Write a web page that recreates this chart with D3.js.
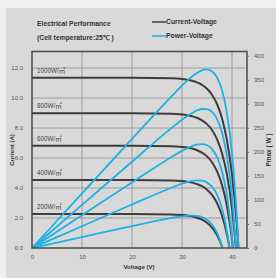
<!DOCTYPE html>
<html>
<head>
<meta charset="utf-8">
<script src="https://cdn.jsdelivr.net/npm/d3@7"></script>
<style>
  body { margin: 0; background: #f0f0f0; }
  svg { display: block; }
</style>
</head>
<body>
<div class="canvas"></div>
<script>
// irradiance levels, top to bottom
const irradiance = ['1000W/', '800W/', '600W/', '400W/', '200W/'];
const iscValues = [11.35, 8.98, 6.82, 4.53, 2.27];

// current-voltage curves [V, A]
const ivCurves = [
    [[0,11.35],[20,11.35],[28,11.31],[30,11.27],[31,11.22],[32,11.15],[33,11.04],[34,10.88],[35,10.62],[36,10.22],[37,9.60],[38,8.65],[39,7.17],[40,4.90],[41,1.39],[41.3,0]],
    [[0,8.98],[20,8.98],[28,8.95],[30,8.90],[31,8.85],[32,8.78],[33,8.68],[34,8.51],[35,8.26],[36,7.87],[37,7.26],[38,6.32],[39,4.88],[40,2.64],[40.8,0]],
    [[0,6.82],[20,6.82],[28,6.79],[30,6.74],[31,6.70],[32,6.63],[33,6.52],[34,6.36],[35,6.11],[36,5.72],[37,5.12],[38,4.20],[39,2.77],[40,0.57],[40.2,0]],
    [[0,4.53],[20,4.53],[28,4.50],[30,4.46],[31,4.42],[32,4.36],[33,4.26],[34,4.12],[35,3.89],[36,3.54],[37,3.00],[38,2.17],[39,0.88],[39.5,0]],
    [[0,2.27],[20,2.27],[28,2.24],[30,2.20],[31,2.17],[32,2.11],[33,2.02],[34,1.89],[35,1.68],[36,1.36],[37,0.86],[38,0.10],[38.1,0]]
];

// power-voltage curves [V, W]
const pvCurves = [
    [[0,0],[10,113.5],[20,227],[28,316.7],[30,338.1],[31,347.8],[32,356.8],[33,364.3],[34,369.9],[35,371.7],[36,367.9],[37,355.2],[38,328.7],[39,279.6],[40,196],[41,57],[41.3,0]],
    [[0,0],[10,89.8],[20,179.6],[28,250.6],[30,267],[31,274.4],[32,281],[33,286.4],[34,289.3],[35,289.1],[36,283.3],[37,268.6],[38,240.2],[39,190.3],[40,105.6],[40.8,0]],
    [[0,0],[10,68.2],[20,136.4],[28,190.1],[30,202.2],[31,207.7],[32,212.2],[33,215.2],[34,216.2],[35,213.9],[36,205.9],[37,189.4],[38,159.6],[39,108],[40,22.8],[40.2,0]],
    [[0,0],[10,45.3],[20,90.6],[28,126],[30,133.8],[31,137],[32,139.5],[33,140.6],[34,140.1],[35,136.2],[36,127.4],[37,111],[38,82.5],[39,34.3],[39.5,0]],
    [[0,0],[10,22.7],[20,45.4],[28,62.7],[30,66],[31,67.3],[32,67.5],[33,66.7],[34,64.3],[35,58.8],[36,49],[37,31.8],[38,3.8],[38.1,0]]
];

const xTicks = [0, 10, 20, 30, 40];
const yTicks = [0, 2, 4, 6, 8, 10, 12];
const pTicks = [0, 50, 100, 150, 200, 250, 300, 350, 400];

const width = 276, height = 278;
const ivColour = '#3d3d3d';
const pvColour = '#1eb0e6';
const font = '"Liberation Sans", Arial, sans-serif';

const svg = d3.select('.canvas')
    .append('svg')
        .attr('width', width)
        .attr('height', height);

// panel background
svg.append('rect')
    .attr('x', 6).attr('y', 8)
    .attr('width', width - 6).attr('height', height - 8)
    .attr('fill', '#d9d9d9');

const plot = {left: 32, right: 247, top: 51.5, bottom: 248};

const x = d3.scaleLinear().domain([0, 43]).range([plot.left, plot.right]);
const y = d3.scaleLinear().domain([0, 13.1]).range([plot.bottom, plot.top]);
const yP = d3.scaleLinear().domain([0, 409]).range([plot.bottom, plot.top]);

// grid
svg.append('g')
    .selectAll('line.vgrid')
    .data(xTicks.slice(1))
    .enter().append('line')
        .attr('class', 'vgrid')
        .attr('x1', d => x(d)).attr('x2', d => x(d))
        .attr('y1', plot.top).attr('y2', plot.bottom)
        .attr('stroke', '#9c9c9c')
        .attr('stroke-width', 1);

svg.append('g')
    .selectAll('line.hgrid')
    .data(yTicks.slice(1))
    .enter().append('line')
        .attr('class', 'hgrid')
        .attr('x1', plot.left).attr('x2', plot.right)
        .attr('y1', d => y(d)).attr('y2', d => y(d))
        .attr('stroke', '#9c9c9c')
        .attr('stroke-width', 1);

// curves
const ivLine = d3.line()
    .x(d => x(d[0]))
    .y(d => y(d[1]))
    .curve(d3.curveMonotoneX);

const pvLine = d3.line()
    .x(d => x(d[0]))
    .y(d => yP(d[1]))
    .curve(d3.curveMonotoneX);

svg.append('g')
    .selectAll('path')
    .data(ivCurves)
    .enter().append('path')
        .attr('fill', 'none')
        .attr('stroke', ivColour)
        .attr('stroke-width', 2)
        .attr('d', ivLine);

svg.append('g')
    .selectAll('path')
    .data(pvCurves)
    .enter().append('path')
        .attr('fill', 'none')
        .attr('stroke', pvColour)
        .attr('stroke-width', 1.8)
        .attr('d', pvLine);

// irradiance labels
const irrLabels = svg.append('g')
    .selectAll('text')
    .data(irradiance)
    .enter().append('text')
        .attr('x', 37)
        .attr('y', (d, i) => y(iscValues[i]) - 5)
        .attr('font-family', font)
        .attr('font-size', 6.3)
        .attr('fill', '#444')
        .text(d => d);

irrLabels.append('tspan')
    .attr('font-family', '"Noto Sans CJK SC", sans-serif')
    .attr('font-size', 6.5)
    .text('㎡');

// frame
svg.append('rect')
    .attr('x', plot.left).attr('y', plot.top)
    .attr('width', plot.right - plot.left)
    .attr('height', plot.bottom - plot.top)
    .attr('fill', 'none')
    .attr('stroke', '#4a4a4a')
    .attr('stroke-width', 1.5);

// axes
const styleAxis = g => {
    g.select('.domain').remove();
    g.selectAll('text')
        .attr('font-family', font)
        .attr('font-size', 6)
        .attr('fill', '#555');
    g.selectAll('line').attr('stroke', '#666');
};

svg.append('g')
    .attr('transform', `translate(0, ${plot.bottom})`)
    .call(d3.axisBottom(x).tickValues(xTicks).tickSize(0).tickPadding(7))
    .call(styleAxis);

svg.append('g')
    .attr('transform', `translate(${plot.left}, 0)`)
    .call(d3.axisLeft(y).tickValues(yTicks).tickFormat(d3.format('.1f')).tickSize(0).tickPadding(9))
    .call(styleAxis);

svg.append('g')
    .attr('transform', `translate(${plot.right}, 0)`)
    .call(d3.axisRight(yP).tickValues(pTicks).tickSize(2).tickPadding(5))
    .call(styleAxis);

// axis titles
svg.append('text')
    .attr('x', 139).attr('y', 269)
    .attr('text-anchor', 'middle')
    .attr('font-family', font)
    .attr('font-size', 6)
    .attr('font-weight', 'bold')
    .attr('fill', '#333')
    .text('Voltage (V)');

svg.append('text')
    .attr('transform', 'translate(14, 150) rotate(-90)')
    .attr('text-anchor', 'middle')
    .attr('font-family', font)
    .attr('font-size', 6)
    .attr('font-weight', 'bold')
    .attr('fill', '#333')
    .text('Current (A)');

svg.append('text')
    .attr('transform', 'translate(271, 150) rotate(-90)')
    .attr('text-anchor', 'middle')
    .attr('font-family', font)
    .attr('font-size', 6.5)
    .attr('font-weight', 'bold')
    .attr('fill', '#333')
    .text('Pmax ( W )');

// title
svg.append('text')
    .attr('x', 37).attr('y', 26)
    .attr('font-family', font)
    .attr('font-size', 6.8)
    .attr('font-weight', 'bold')
    .attr('fill', '#333')
    .text('Electrical Performance');

svg.append('text')
    .attr('x', 37).attr('y', 40)
    .attr('font-family', font)
    .attr('font-size', 6.8)
    .attr('font-weight', 'bold')
    .attr('fill', '#333')
    .text('(Cell temperature:25℃ )');

// legend
const legend = [
    {label: 'Current-Voltage', colour: ivColour, y: 22},
    {label: 'Power-Voltage', colour: pvColour, y: 36}
];

const legendItems = svg.append('g')
    .selectAll('g')
    .data(legend)
    .enter().append('g');

legendItems.append('line')
    .attr('x1', 152).attr('x2', 166)
    .attr('y1', d => d.y).attr('y2', d => d.y)
    .attr('stroke', d => d.colour)
    .attr('stroke-width', 1.5);

legendItems.append('text')
    .attr('x', 166).attr('y', d => d.y + 2.3)
    .attr('font-family', font)
    .attr('font-size', 6.8)
    .attr('font-weight', 'bold')
    .attr('fill', '#333')
    .text(d => d.label);
</script>
</body>
</html>
